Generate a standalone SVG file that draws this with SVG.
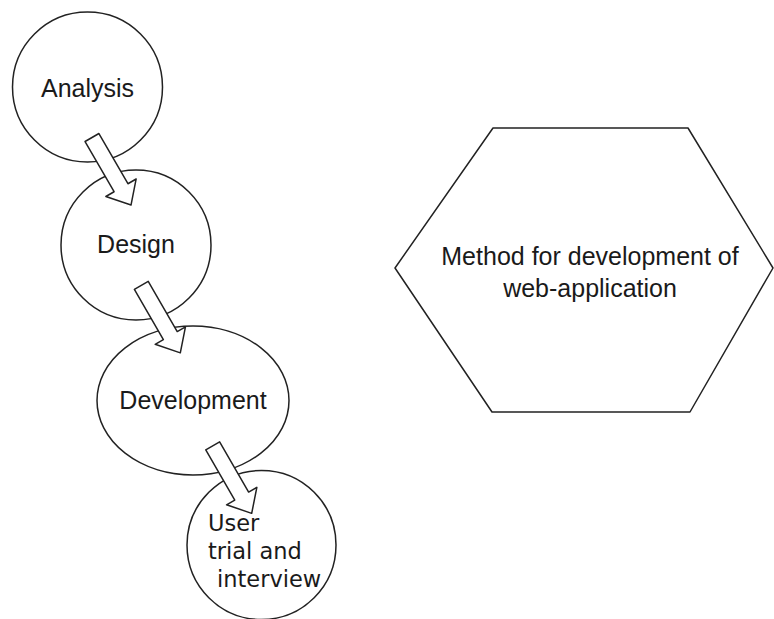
<svg xmlns="http://www.w3.org/2000/svg" width="774" height="619" viewBox="0 0 774 619">
<style>
.shape{fill:#fff;stroke:#222;stroke-width:1.5;stroke-linejoin:round}
.lbl{font-family:"Liberation Sans",Arial,sans-serif;font-size:25px;fill:#1a1a1a;text-anchor:middle}
.lbl2{font-family:"DejaVu Sans",Verdana,sans-serif;font-size:22.5px;fill:#1a1a1a}
</style>
<defs>
<polygon id="blockArrow" points="0,-8 58,-8 58,-17.5 78,0 58,17.5 58,8 0,8" class="shape"/>
</defs>
<g id="analysis">
<circle class="shape" cx="87.5" cy="87" r="75"/>
<text class="lbl" x="87.5" y="97">Analysis</text>
</g>
<g id="design">
<circle class="shape" cx="136" cy="245" r="75"/>
<text class="lbl" x="136" y="253">Design</text>
</g>
<g id="development">
<ellipse class="shape" cx="193" cy="400.5" rx="96" ry="74.5"/>
<text class="lbl" x="193" y="409">Development</text>
</g>
<g id="user-trial">
<circle class="shape" cx="261.5" cy="545" r="74.5"/>
<text class="lbl2" x="208" y="531">User</text>
<text class="lbl2" x="208" y="559">trial and</text>
<text class="lbl2" x="217" y="587">interview</text>
</g>
<g id="method">
<polygon class="shape" points="395,268 493,128 688,128 773,268 690,412 492,412"/>
<text class="lbl" x="590" y="265">Method for development of</text>
<text class="lbl" x="590" y="297">web-application</text>
</g>
<g id="connectors">
<use href="#blockArrow" transform="translate(92,137.5) rotate(60)"/>
<use href="#blockArrow" transform="translate(141.3,285.3) rotate(60)"/>
<use href="#blockArrow" transform="translate(212.7,445.8) rotate(60)"/>
</g>
</svg>
